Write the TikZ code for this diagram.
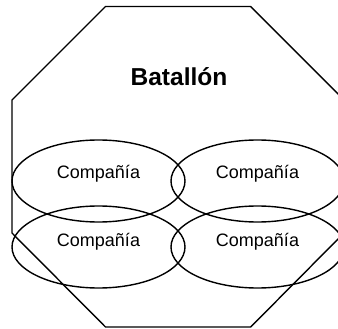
\documentclass[tikz,border=0pt]{standalone}
\usepackage{fontspec}
\setmainfont{Liberation Sans}
\usetikzlibrary{shapes.geometric}
\usetikzlibrary{positioning}

\tikzset{every picture/.style={line width=1.4pt}}
\tikzset{company/.style = {draw, ellipse, minimum width=173pt, minimum height=82pt, inner sep=0}}
\tikzset{comptext/.style = {anchor=base, inner sep=0, font=\fontsize{18}{20}\selectfont}}

\begin{document}
\begin{tikzpicture}[x=1pt, y=-1pt]

      \useasboundingbox (0,0) rectangle (338,329);
      \clip (0,0) rectangle (338,329);

      % battalion outline
      \draw (105.5,6.5) -- (250.7,6.5) -- (344,100) -- (344,233) --
            (250.7,327) -- (105.5,327) -- (12,233) -- (12,100) -- cycle;

      \node[anchor=base, inner sep=0, font=\fontsize{24.5}{26}\selectfont\bfseries]
            (batallon) at (179,85.7) {Batallón};

      % companies
      \node[company] (c1) at (98.5,181) {};
      \node[company] (c2) at (257.5,181) {};
      \node[company] (c3) at (98.5,247) {};
      \node[company] (c4) at (257.5,247) {};

      \node[comptext] (t1) at ([yshift=2.7pt]c1.center) {Compañía};
      \node[comptext] (t2) at ([yshift=2.7pt]c2.center) {Compañía};
      \node[comptext] (t3) at ([yshift=0.3pt]c3.center) {Compañía};
      \node[comptext] (t4) at ([yshift=0.3pt]c4.center) {Compañía};

\end{tikzpicture}
\end{document}
